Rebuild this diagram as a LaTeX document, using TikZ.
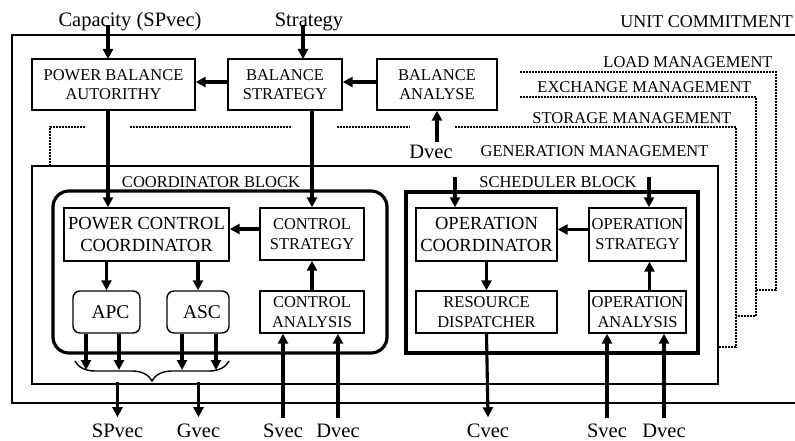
\documentclass[tikz,border=0pt]{standalone}
\usepackage{fontspec}
\setmainfont{Liberation Serif}
\usetikzlibrary{arrows.meta,positioning,decorations.pathreplacing}

\begin{document}
\begin{tikzpicture}[x=1pt, y=-1pt,
    box/.style={rectangle, draw, line width=1.4pt, inner sep=0pt, align=center, font=\fontsize{16.5}{20}\selectfont},
    topbox/.style={box, minimum height=51pt, font=\fontsize{16.5}{19}\selectfont},
    coordbox/.style={box, minimum height=53pt, font=\fontsize{18.5}{22}\selectfont},
    unitbox/.style={box, rounded corners=7pt, minimum width=64pt, minimum height=42pt, font=\fontsize{19.5}{22}\selectfont},
    block/.style={rectangle, draw, line width=3.2pt, inner sep=0pt},
    layer/.style={line width=2.6pt, dash pattern=on 1.8pt off 1.2pt},
    lbl/.style={inner sep=0pt, anchor=base, font=\fontsize{16.5}{19}\selectfont},
    sig/.style={inner sep=0pt, anchor=base, font=\fontsize{20.5}{23}\selectfont},
    arrow/.style={-{Triangle[length=10pt,width=10pt]}, line width=3.1pt}
]
\useasboundingbox (0,0) rectangle (795,441);

% frames
\node[rectangle, draw, line width=2.2pt, minimum width=798pt, minimum height=368pt, inner sep=0pt] (unit) at (411,219) {};
\node[rectangle, draw, line width=1.5pt, minimum width=686pt, minimum height=218pt, inner sep=0pt] (gen) at (375,275) {};
\node[block, rounded corners=16pt, minimum width=334pt, minimum height=162pt] (coord) at (220,272) {};
\node[block, minimum width=292pt, minimum height=161pt] (sched) at (552,272.5) {};

% management layers
\draw[layer] (520,72) -- (776,72) -- (776,290) -- (756,290);
\draw[layer] (520,97) -- (756,97) -- (756,316) -- (736,316);
\draw[layer] (50,166) -- (50,127) -- (86,127);
\draw[layer] (130,127) -- (292,127);
\draw[layer] (337,127) -- (410,127);
\draw[layer] (455,127) -- (736,127) -- (736,347) -- (718,347);

% labels
\node[lbl, anchor=base east, font=\fontsize{18}{20}\selectfont] (unitlbl) at (793,28) {UNIT COMMITMENT};
\node[lbl] (loadlbl) at (688,68) {LOAD MANAGEMENT};
\node[lbl] (exchlbl) at (644.5,93) {EXCHANGE MANAGEMENT};
\node[lbl] (storlbl) at (632,124) {STORAGE MANAGEMENT};
\node[lbl] (genlbl) at (594.5,157) {GENERATION MANAGEMENT};
\node[lbl] (coordlbl) at (211,187) {COORDINATOR BLOCK};
\node[lbl] (schedlbl) at (558,187) {SCHEDULER BLOCK};

\node[sig] (capacity) at (130,27) {Capacity (SPvec)};
\node[sig] (strategy) at (309,27) {Strategy};
\node[sig] (dvectop) at (431,158) {Dvec};
\node[sig] (spvec) at (117.5,437) {SPvec};
\node[sig] (gvec) at (198.5,437) {Gvec};
\node[sig] (svec1) at (283,437) {Svec};
\node[sig] (dvec1) at (338,437) {Dvec};
\node[sig] (cvec) at (488,437) {Cvec};
\node[sig] (svec2) at (607,437) {Svec};
\node[sig] (dvec2) at (664,437) {Dvec};

% boxes
\node[topbox, minimum width=163pt] (pba) at (113.5,84.5) {POWER BALANCE\\AUTORITHY};
\node[topbox, minimum width=114pt] (bs) at (285,84.5) {BALANCE\\STRATEGY};
\node[topbox, minimum width=120pt] (ba) at (437,84.5) {BALANCE\\ANALYSE};

\node[coordbox, minimum width=165pt] (pcc) at (146.5,234.5) {POWER CONTROL\\COORDINATOR};
\node[box, minimum width=104pt, minimum height=52pt] (cs) at (312,234) {CONTROL\\STRATEGY};
\node[unitbox, minimum width=67pt] (apc) at (106.5,312) {\hspace{8pt}APC};
\node[unitbox, minimum width=62pt] (asc) at (198,312) {\hspace{8pt}ASC};
\node[box, minimum width=104pt, minimum height=42pt] (ca) at (312,312) {CONTROL\\ANALYSIS};

\node[coordbox, minimum width=141pt] (oc) at (486.5,234.5) {OPERATION\\COORDINATOR};
\node[box, minimum width=97pt, minimum height=53pt] (os) at (637.5,234.5) {OPERATION\\STRATEGY};
\node[box, minimum width=141pt, minimum height=42pt] (rd) at (486.5,312) {RESOURCE\\DISPATCHER};
\node[box, minimum width=97pt, minimum height=42pt] (oa) at (637.5,312) {OPERATION\\ANALYSIS};

\coordinate (pbain) at (108,59);
\coordinate (bsin) at (303,59);
\coordinate (schin1) at (455,177);
\coordinate (schin2) at (649,177);
\coordinate (bl) at (75,361);
\coordinate (br) at (229,361);
\coordinate (bh) at (0,370);

% upper level
\draw[arrow] ([yshift=2pt]capacity.base -| pbain) -- (pbain);
\draw[arrow] ([yshift=2pt]strategy.base -| bsin) -- (bsin);
\draw[arrow] ([yshift=2.5pt]ba.west) -- ([yshift=2.5pt]bs.east);
\draw[arrow] ([yshift=2.5pt]bs.west) -- ([yshift=2.5pt]pba.east);
\draw[arrow] ([yshift=2pt]dvectop.north -| ba.south) -- (ba.south);
\draw[arrow] (pba.south -| pbain) -- (pcc.north -| pbain);
\draw[arrow] (bs.south -| cs.north) -- (cs.north);

% coordinator block
\draw[arrow] ([yshift=5pt]cs.west) -- ([yshift=5pt]cs.west -| pcc.east);
\draw[arrow] (pcc.south -| apc.north) -- (apc.north);
\draw[arrow] (pcc.south -| asc.north) -- (asc.north);
\draw[arrow] (ca.north) -- (cs.south);
\draw[arrow] ([xshift=-20.5pt]apc.south) -- ([xshift=-20.5pt]apc.south |- bh);
\draw[arrow] ([xshift=12.5pt]apc.south) -- ([xshift=12.5pt]apc.south |- bh);
\draw[arrow] ([xshift=-16pt]asc.south) -- ([xshift=-16pt]asc.south |- bh);
\draw[arrow] ([xshift=18pt]asc.south) -- ([xshift=18pt]asc.south |- bh);
\draw[line width=1.4pt, decorate, decoration={brace, mirror, amplitude=20pt}] (bl) -- (br);
\draw[arrow] ([yshift=3pt]gen.south -| spvec) -- ([yshift=6pt]spvec.north);
\draw[arrow] ([yshift=3pt]gen.south -| gvec) -- ([yshift=6pt]gvec.north);
\draw[arrow] ([yshift=5pt]svec1.north) -- (svec1.north |- ca.south);
\draw[arrow] ([yshift=5pt]dvec1.north) -- (dvec1.north |- ca.south);

% scheduler block
\draw[arrow] (schin1) -- (schin1 |- oc.north);
\draw[arrow] (schin2) -- (schin2 |- os.north);
\draw[arrow] ([yshift=5pt]os.west) -- ([yshift=5pt]os.west -| oc.east);
\draw[arrow] (oc.south) -- (rd.north);
\draw[arrow] ([xshift=12pt]oa.north) -- ([xshift=12pt]os.south);
\draw[arrow] (rd.south) -- ([yshift=6pt]cvec.north);
\draw[arrow] ([yshift=5pt]svec2.north) -- (svec2.north |- oa.south);
\draw[arrow] ([yshift=5pt]dvec2.north) -- (dvec2.north |- oa.south);
\end{tikzpicture}
\end{document}
